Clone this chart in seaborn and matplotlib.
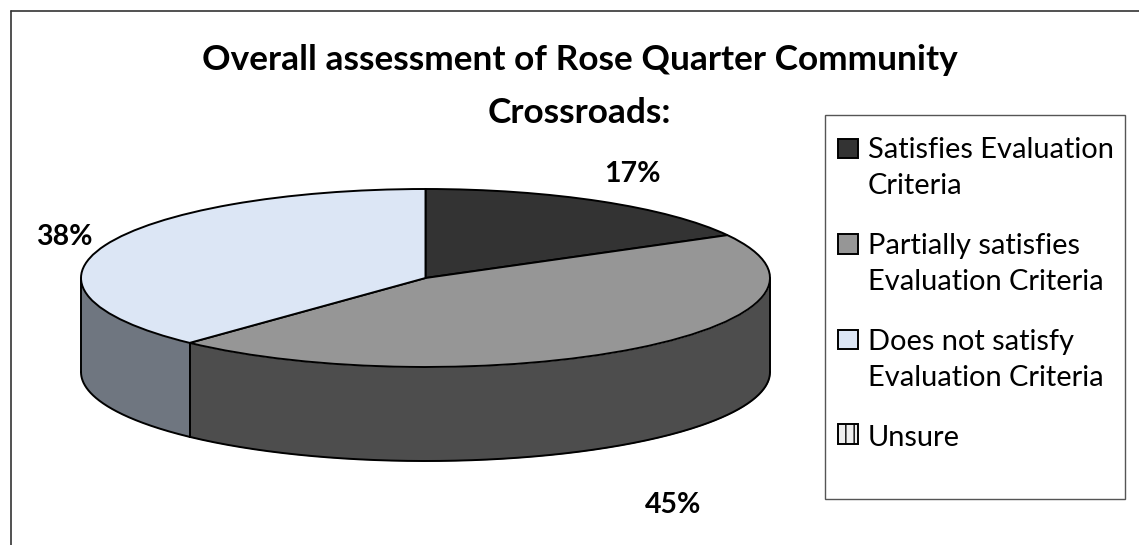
import numpy as np
import matplotlib
matplotlib.use("Agg")
import matplotlib.pyplot as plt
from matplotlib.patches import Patch, Rectangle
from matplotlib.lines import Line2D
from matplotlib.legend_handler import HandlerPatch
import seaborn as sns

categories = ["Satisfies Evaluation\nCriteria", "Partially satisfies\nEvaluation Criteria",
              "Does not satisfy\nEvaluation Criteria", "Unsure"]
values = [17, 45, 38, 0]
labels = ["17%", "45%", "38%"]
top_colors = ["#333333", "#969696", "#dce6f5", "#eeeeee"]
side_colors = ["#2a2a2a", "#4d4d4d", "#6f7680"]

sns.set_theme(style="white")
plt.rcParams["font.family"] = ["Lato", "DejaVu Sans"]
plt.rcParams["hatch.linewidth"] = 1.0

W, H = 1139, 545
fig = plt.figure(figsize=(W / 100, H / 100), dpi=100, facecolor="white")
cx, cy, rx, ry, depth = 425.5, 278, 344.5, 89, 94
ax = fig.add_axes([(cx - rx) / W, 1 - (cy + ry) / H, 2 * rx / W, 2 * ry / H])

wedges, _ = ax.pie(values[:3], colors=top_colors[:3], startangle=90, counterclock=False, radius=1,
                   wedgeprops=dict(edgecolor="black", linewidth=1.4, zorder=5))
ax.set_aspect("auto")
ax.set_xlim(-1, 1)
ax.set_ylim(-1, 1)
ax.axis("off")
d = depth / ry

# side wall of the disc, from the same shares
edges = 90 - np.cumsum([0] + values[:3]) * 3.6
for i in range(3):
    a0, a1 = edges[i], edges[i + 1]
    hi = min(a0, 0)
    lo = max(a1, -180)
    if hi <= lo:
        continue
    t = np.radians(np.linspace(lo, hi, 200))
    x, y = np.cos(t), np.sin(t)
    ax.fill_between(x, y - d, y, color=side_colors[i], lw=0, zorder=1, clip_on=False)
    ax.plot(x, y - d, color="black", lw=1.4, zorder=2, clip_on=False)
    for xe, ye in [(x[0], y[0]), (x[-1], y[-1])]:
        ax.plot([xe, xe], [ye, ye - d], color="black", lw=1.4, zorder=2, clip_on=False)


def to_ax(px, py):
    return (px - cx) / rx, (cy - py) / ry


for txt, (px, py) in zip(labels, [(632, 174), (673, 505), (64, 237)]):
    ax.text(*to_ax(px, py), txt, ha="center", va="center", fontsize=20.5, fontweight="bold",
            color="black", clip_on=False)

fig.text(580 / W, 1 - 60 / H, "Overall assessment of Rose Quarter Community", ha="center", va="center",
         fontsize=25.4, fontweight="bold", color="black")
fig.text(579 / W, 1 - 113 / H, "Crossroads:", ha="center", va="center",
         fontsize=25.4, fontweight="bold", color="black")

# legend frame and chart border
fig.add_artist(Rectangle((825 / W, 1 - 499 / H), 299.5 / W, 384 / H, transform=fig.transFigure,
                         fc="white", ec="#555555", lw=1))
fig.add_artist(Line2D([11 / W, 11 / W], [0, 1 - 10.5 / H], color="#333333", lw=1.2))
fig.add_artist(Line2D([11 / W, 1], [1 - 10.5 / H, 1 - 10.5 / H], color="#333333", lw=1.2))

two_line_lift = 14.7  # points: handle sits beside the first of two text lines
one_line_lift = 1.0


def square(legend, orig_handle, xdescent, ydescent, width, height, fontsize):
    lift = one_line_lift if orig_handle.get_label() == "single" else two_line_lift
    return Rectangle((-xdescent, -ydescent + lift), width, height)


handles = [Patch(facecolor=top_colors[i], edgecolor="black", linewidth=1.4,
                 hatch="||" if i == 3 else None, label="single" if i == 3 else "double") for i in range(4)]
leg = fig.legend(handles, categories, loc="upper left",
                 bbox_to_anchor=(838 / W, 1 - 137 / H), bbox_transform=fig.transFigure,
                 frameon=False, fontsize=20.9, handlelength=0.68, handleheight=0.64,
                 handletextpad=0.34, labelspacing=1.15, labelcolor="black", borderpad=0, borderaxespad=0,
                 handler_map={Patch: HandlerPatch(patch_func=square)})
for t in leg.get_texts():
    t.set_linespacing(1.5)
leg.set_zorder(10)

fig.savefig("out.png", dpi=100)
